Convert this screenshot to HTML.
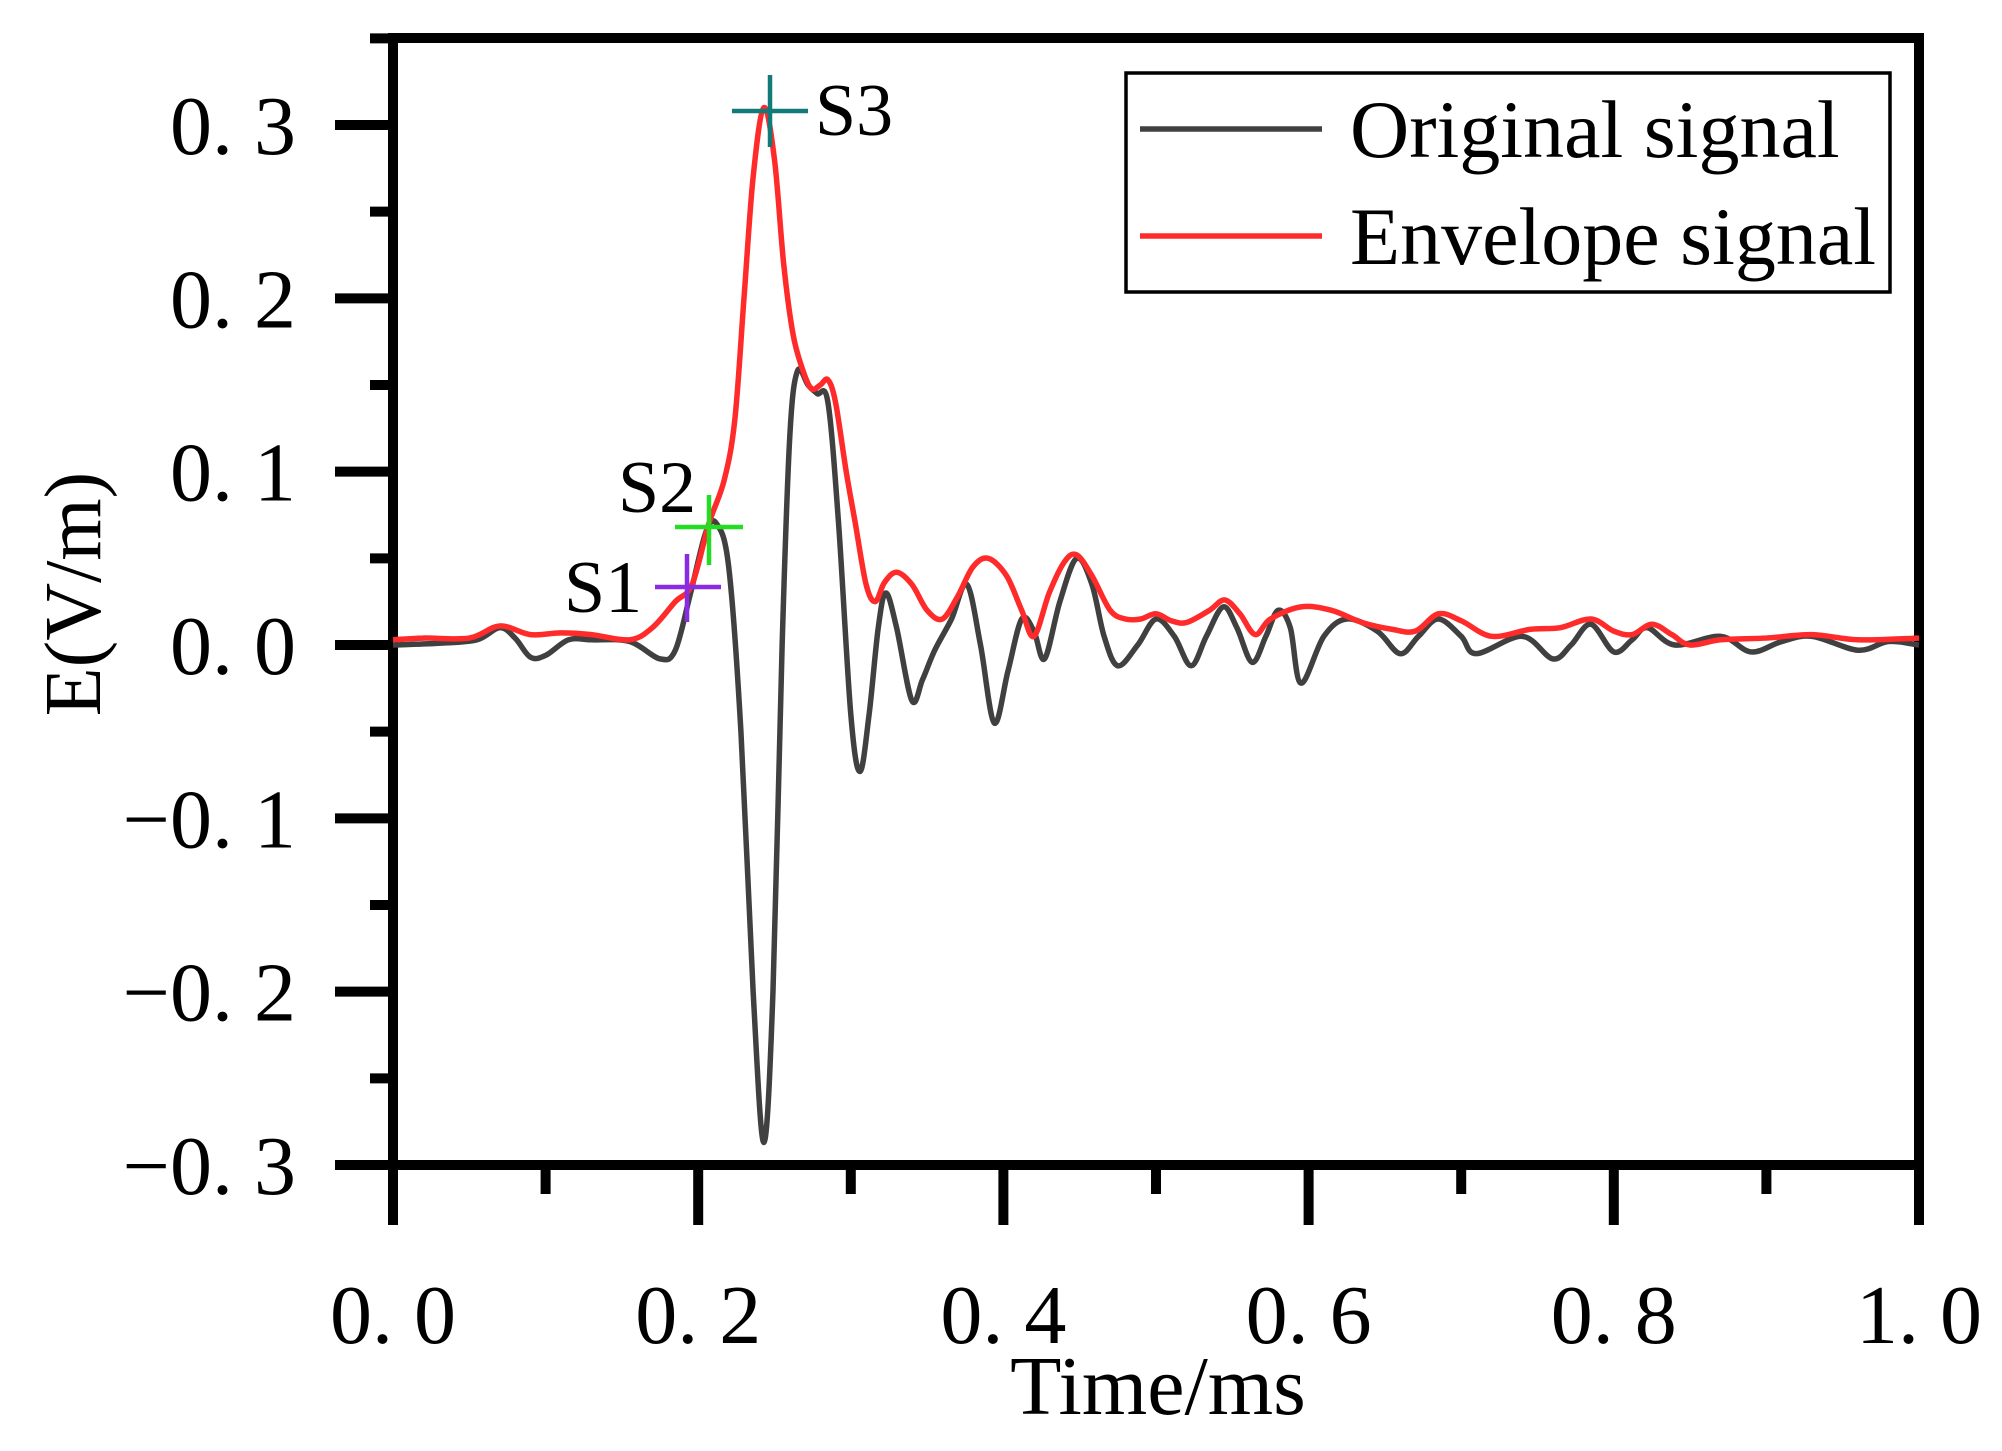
<!DOCTYPE html>
<html><head><meta charset="utf-8"><style>
html,body{margin:0;padding:0;background:#fff;}
svg{display:block;}
text{font-family:"Liberation Serif",serif;fill:#000;}
</style></head><body>
<svg id="s" width="2002" height="1451" viewBox="0 0 2002 1451" xmlns="http://www.w3.org/2000/svg">
<g id="ax" stroke="#000" stroke-width="10" fill="none"></g>
<path id="orig" fill="none" stroke="#404040" stroke-width="5.5" stroke-linejoin="round"/>
<path id="env" fill="none" stroke="#ff2a2a" stroke-width="5.5" stroke-linejoin="round"/>
<g stroke-width="4.5">
<line x1="732" y1="111" x2="808" y2="111" stroke="#137a7a"/><line x1="770" y1="75" x2="770" y2="147" stroke="#137a7a"/>
<line x1="675" y1="527" x2="743" y2="527" stroke="#22dd22"/><line x1="709" y1="495" x2="709" y2="565" stroke="#22dd22"/>
<line x1="655" y1="587" x2="721" y2="587" stroke="#8a2be2"/><line x1="687" y1="554" x2="687" y2="622" stroke="#8a2be2"/>
</g>
<text x="815" y="135" font-size="74">S3</text>
<text x="618" y="512" font-size="74">S2</text>
<text x="564" y="612" font-size="74">S1</text>
<rect x="1126" y="73" width="764" height="219" fill="#fff" stroke="#000" stroke-width="3.5"/>
<line x1="1140" y1="129" x2="1322" y2="129" stroke="#404040" stroke-width="5.5"/>
<line x1="1140" y1="236" x2="1322" y2="236" stroke="#ff2a2a" stroke-width="5.5"/>
<text x="1350" y="157" font-size="82">Original signal</text>
<text x="1350" y="264" font-size="82">Envelope signal</text>
<g id="lab" font-size="84"></g>
<text x="1158" y="1414" font-size="84" text-anchor="middle">Time/ms</text>
<text transform="translate(100,594) rotate(-90)" font-size="80" text-anchor="middle">E(V/m)</text>
</svg>
<script>
var X=t=>393+1526*t, Y=v=>645-1733.3*v;
var ax=document.getElementById('ax'),lab=document.getElementById('lab');
function L(x1,y1,x2,y2){ax.innerHTML+='<line x1="'+x1+'" y1="'+y1+'" x2="'+x2+'" y2="'+y2+'"/>';}
L(393,38,393,1170);L(388,1165,1924,1165);L(388,38,1924,38);L(1919,33,1919,1170);
for(var i=-6;i<=7;i++){var v=i*0.05,y=Y(v);L(i%2==0?335:370,y,393,y);}
for(var i=0;i<=10;i++){var x=X(i/10);L(x,1165,x,i%2==0?1225:1194);}
var yl=["\u22120. 3","\u22120. 2","\u22120. 1","0. 0","0. 1","0. 2","0. 3"];
for(var i=0;i<7;i++){lab.innerHTML+='<text x="296" y="'+(Y((i-3)/10)+29)+'" text-anchor="end">'+yl[i]+'</text>';}
for(var i=0;i<=5;i++){lab.innerHTML+='<text x="'+X(i/5)+'" y="1343" text-anchor="middle">'+(i==5?"1. 0":"0. "+(2*i))+'</text>';}
function path(p){var pts=p.map(a=>[X(a[0]),Y(a[1])]);var d='M'+pts[0][0]+','+pts[0][1];
for(var i=0;i<pts.length-1;i++){var p0=pts[Math.max(0,i-1)],p1=pts[i],p2=pts[i+1],p3=pts[Math.min(pts.length-1,i+2)];
d+=' C'+(p1[0]+(p2[0]-p0[0])/6)+','+(p1[1]+(p2[1]-p0[1])/6)+' '+(p2[0]-(p3[0]-p1[0])/6)+','+(p2[1]-(p3[1]-p1[1])/6)+' '+p2[0]+','+p2[1];}
return d;}
var o=[[0,0],[0.03,0.001],[0.055,0.003],[0.07,0.01],[0.08,0.004],[0.09,-0.007],[0.1,-0.006],[0.115,0.003],[0.13,0.003],[0.155,0.002],[0.175,-0.008],[0.185,-0.003],[0.195,0.03],[0.205,0.065],[0.212,0.07],[0.22,0.045],[0.228,-0.05],[0.236,-0.2],[0.243,-0.287],[0.249,-0.2],[0.255,0.0],[0.26,0.12],[0.265,0.158],[0.272,0.15],[0.278,0.145],[0.285,0.14],[0.292,0.07],[0.3,-0.04],[0.306,-0.073],[0.312,-0.04],[0.318,0.01],[0.323,0.03],[0.33,0.01],[0.34,-0.032],[0.347,-0.02],[0.355,-0.003],[0.366,0.015],[0.376,0.035],[0.385,0.0],[0.394,-0.045],[0.403,-0.015],[0.412,0.015],[0.42,0.008],[0.427,-0.008],[0.437,0.025],[0.448,0.05],[0.458,0.035],[0.466,0.005],[0.475,-0.012],[0.488,0.0],[0.5,0.015],[0.512,0.005],[0.523,-0.012],[0.533,0.005],[0.544,0.022],[0.553,0.01],[0.563,-0.01],[0.572,0.005],[0.58,0.02],[0.588,0.01],[0.595,-0.022],[0.61,0.005],[0.625,0.015],[0.645,0.008],[0.66,-0.005],[0.672,0.005],[0.685,0.015],[0.7,0.005],[0.71,-0.005],[0.74,0.005],[0.76,-0.008],[0.772,0.0],[0.785,0.012],[0.8,-0.004],[0.812,0.003],[0.822,0.01],[0.84,0.0],[0.87,0.005],[0.89,-0.004],[0.91,0.002],[0.93,0.005],[0.96,-0.003],[0.98,0.002],[1,0]];
var e=[[0,0.003],[0.02,0.004],[0.05,0.004],[0.07,0.011],[0.09,0.006],[0.11,0.007],[0.13,0.006],[0.155,0.003],[0.17,0.01],[0.185,0.025],[0.196,0.035],[0.207,0.07],[0.217,0.095],[0.224,0.13],[0.23,0.2],[0.236,0.27],[0.243,0.31],[0.25,0.28],[0.256,0.22],[0.262,0.18],[0.268,0.16],[0.274,0.148],[0.28,0.15],[0.285,0.153],[0.29,0.14],[0.297,0.1],[0.303,0.07],[0.31,0.035],[0.316,0.025],[0.322,0.036],[0.33,0.042],[0.34,0.035],[0.35,0.02],[0.36,0.015],[0.37,0.028],[0.38,0.045],[0.39,0.05],[0.402,0.04],[0.412,0.02],[0.42,0.005],[0.43,0.03],[0.44,0.048],[0.448,0.052],[0.458,0.04],[0.47,0.02],[0.48,0.015],[0.49,0.015],[0.5,0.018],[0.51,0.014],[0.52,0.013],[0.535,0.02],[0.545,0.026],[0.555,0.018],[0.565,0.006],[0.575,0.015],[0.595,0.022],[0.615,0.02],[0.635,0.013],[0.655,0.009],[0.67,0.008],[0.685,0.018],[0.7,0.014],[0.72,0.005],[0.745,0.009],[0.765,0.01],[0.785,0.015],[0.8,0.008],[0.812,0.006],[0.825,0.012],[0.838,0.006],[0.85,0.0],[0.87,0.003],[0.9,0.004],[0.93,0.006],[0.96,0.003],[1,0.004]];
document.getElementById('orig').setAttribute('d',path(o));
document.getElementById('env').setAttribute('d',path(e));
</script>
</body></html>
